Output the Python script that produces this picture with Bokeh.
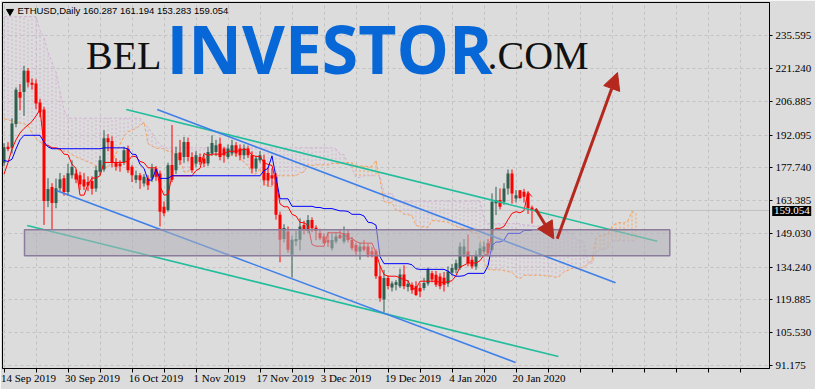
from bokeh.plotting import figure
from bokeh.models import (Range1d, FixedTicker, NumeralTickFormatter, Span,
                          Arrow, NormalHead, ColumnDataSource)
from bokeh.core.properties import value
from bokeh.embed import file_html
from bokeh.resources import INLINE

# ---------------- data (daily ETHUSD, day 0 = 14 Sep 2019) ----------------
opens = [180.0, 187.0, 186.5, 197.0, 211.0, 211.0, 220.3, 215.0, 214.7, 206.4,
         203.3, 163.2, 169.3, 162.3, 168.8, 173.2, 167.1, 174.5, 175.2, 174.5,
         172.6, 171.5, 172.0, 168.7, 176.0, 177.0, 190.7, 189.5, 180.3, 179.6,
         180.3, 186.1, 178.2, 172.5, 174.5, 170.9, 173.1, 173.1, 177.4, 175.2,
         160.7, 159.2, 179.0, 176.7, 184.5, 182.5, 189.1, 182.5, 179.6, 182.5,
         181.8, 179.6, 184.0, 184.7, 188.3, 186.2, 182.5, 184.0, 187.6, 186.2,
         183.2, 186.2, 183.2, 177.4, 181.1, 181.3, 175.5, 174.5, 173.8, 157.1,
         146.5, 149.8, 139.6, 145.5, 146.2, 152.7, 150.0, 154.8, 151.5, 149.1,
         147.6, 146.0, 142.5, 145.4, 148.3, 145.4, 149.1, 146.1, 143.9, 141.0,
         143.2, 143.2, 141.1, 141.1, 130.2, 120.0, 129.4, 125.2, 126.5, 125.8,
         130.9, 125.5, 126.5, 125.8, 125.0, 125.0, 127.0, 131.5, 130.8, 130.1,
         129.5, 127.0, 131.7, 133.0, 133.8, 139.6, 141.0, 137.4, 134.5, 139.5,
         141.0, 144.7, 141.8, 162.2, 163.6, 162.9, 168.7, 175.2, 164.3, 167.9,
         167.2, 166.5, 160.287]
highs = [188.5, 189.0, 199.5, 213.0, 214.5, 222.5, 221.5, 217.0, 216.5, 208.0,
         204.5, 173.2, 171.0, 173.0, 175.5, 174.5, 179.5, 181.0, 177.0, 176.0,
         175.5, 174.0, 174.0, 178.5, 183.0, 194.2, 192.5, 191.5, 182.0, 181.0,
         187.0, 187.5, 179.0, 176.5, 175.5, 175.0, 174.5, 179.5, 178.5, 176.5,
         163.0, 180.0, 196.5, 187.0, 190.0, 191.3, 191.0, 184.5, 185.0, 184.0,
         183.5, 187.0, 192.0, 190.0, 191.0, 187.0, 188.0, 190.0, 189.0, 188.0,
         188.0, 187.5, 185.0, 183.0, 185.0, 183.5, 178.0, 177.5, 175.5, 158.5,
         153.0, 152.0, 148.0, 150.0, 155.6, 154.5, 157.0, 156.0, 152.5, 151.0,
         149.0, 149.5, 149.0, 149.5, 150.5, 152.0, 150.5, 147.5, 145.0, 145.0,
         146.0, 144.5, 143.0, 142.0, 135.0, 133.0, 130.5, 128.0, 128.5, 133.5,
         135.0, 128.5, 127.5, 128.0, 127.0, 129.5, 134.0, 132.5, 132.5, 131.5,
         132.0, 134.5, 135.5, 137.5, 145.0, 146.5, 148.5, 139.0, 141.5, 145.0,
         145.5, 146.5, 166.5, 169.4, 168.7, 171.0, 177.0, 177.0, 168.0, 168.0,
         168.5, 167.5, 161.194]
lows = [178.5, 185.0, 184.0, 195.5, 203.0, 200.5, 213.0, 212.0, 203.5, 200.0,
        152.7, 160.5, 150.5, 160.0, 167.5, 165.5, 165.5, 173.0, 171.0, 168.0,
        168.0, 167.5, 166.0, 167.2, 174.5, 176.0, 185.0, 178.0, 176.5, 176.0,
        179.0, 175.5, 171.5, 171.0, 168.5, 169.5, 168.0, 171.5, 172.0, 152.0,
        156.5, 158.5, 171.5, 175.0, 179.0, 180.0, 180.5, 175.5, 178.0, 179.0,
        178.0, 178.5, 183.0, 183.0, 181.0, 180.0, 181.5, 183.0, 182.5, 181.0,
        181.5, 182.0, 175.5, 176.0, 180.0, 170.0, 169.5, 170.0, 155.0, 136.3,
        145.0, 140.5, 129.7, 143.5, 141.5, 148.5, 149.0, 149.5, 146.0, 146.0,
        144.5, 143.0, 141.5, 144.5, 146.5, 144.5, 145.0, 141.5, 139.0, 137.4,
        141.0, 138.5, 138.5, 129.0, 119.0, 114.4, 124.5, 123.5, 124.0, 125.0,
        124.5, 123.5, 122.5, 121.5, 121.0, 124.0, 126.0, 127.5, 125.5, 124.5,
        123.5, 125.5, 130.5, 131.5, 133.0, 138.5, 134.5, 133.5, 133.0, 138.5,
        140.0, 139.0, 141.0, 157.0, 159.5, 161.5, 166.0, 162.0, 162.5, 164.0,
        162.5, 157.5, 153.283]
closes = [186.7, 186.0, 197.2, 212.0, 208.5, 220.3, 215.1, 214.2, 205.9, 202.0,
          163.2, 168.4, 162.3, 168.8, 172.7, 167.1, 175.4, 178.1, 172.6, 170.5,
          169.5, 170.0, 168.5, 176.7, 181.0, 190.7, 189.0, 179.8, 178.2, 178.4,
          185.4, 176.7, 174.5, 174.5, 172.3, 173.8, 170.1, 177.4, 173.8, 158.5,
          157.8, 178.9, 172.5, 184.1, 181.1, 189.1, 182.5, 176.7, 183.3, 180.3,
          179.6, 184.7, 188.6, 187.6, 182.5, 183.2, 186.2, 187.6, 184.0, 183.2,
          186.2, 183.2, 177.4, 181.8, 183.2, 172.3, 172.2, 173.0, 157.1, 146.2,
          151.3, 141.8, 146.2, 146.5, 152.0, 150.5, 154.8, 151.2, 150.0, 146.9,
          144.7, 145.0, 146.1, 147.6, 146.9, 149.1, 146.1, 142.5, 141.0, 143.2,
          141.8, 139.6, 139.6, 130.2, 120.5, 129.4, 125.9, 127.0, 127.5, 130.9,
          125.8, 126.9, 124.0, 122.0, 123.5, 127.2, 133.0, 128.8, 126.5, 125.8,
          126.5, 132.3, 133.8, 135.9, 143.2, 143.2, 136.0, 134.5, 139.6, 142.5,
          143.2, 140.4, 162.9, 163.6, 160.7, 168.7, 175.2, 166.5, 165.7, 164.5,
          165.0, 160.0, 159.054]

# Ichimoku lines (per day)
tenkan = [175, 180, 186, 190, 193, 195, 196.5, 198,
          200.5, 203.25, 187.6, 187.6, 186.5, 186.5, 186, 183.75, 183.5, 179.25,
          177.5, 165.75, 165.75, 170.5, 173.25, 173.25, 174.25, 180.1, 180.1, 180.1,
          180.1, 180.1, 180.1, 180.7, 182.85, 182.6, 180.5, 180, 177.75, 177.75,
          177.75, 169.75, 165.75, 166, 174.25, 174.25, 174.25, 174.25, 174.25, 174.25,
          176.5, 177.5, 184, 183.15, 183.75, 183.75, 183.75, 183.75, 185, 185,
          185, 185.25, 186, 185.5, 183.25, 182.75, 182.75, 180, 179.25, 178.75,
          171.5, 161.9, 160.65, 160.65, 157.35, 156.6, 153.85, 153.6, 152.6, 144.1,
          143.35, 143.35, 143.35, 149.25, 149.25, 149.25, 149.25, 148.75, 147, 146.75,
          145.5, 144.7, 144.7, 144.7, 144.7, 140.5, 134.75, 130.95, 130.2, 130.2,
          130.2, 129.45, 128.7, 128.2, 124.7, 124.7, 128, 128, 128, 128,
          128, 127.5, 127.5, 127.75, 128.25, 130.5, 134.25, 135, 136, 136,
          136, 137, 139.5, 140, 149.75, 151.2, 151.2, 152, 155, 157.75,
          158.5, 158, 159, 167, 165.1]
kijun = [181, 180.5, 181.5, 186, 190, 192, 192, 192, 192, 192,
         189, 186.9, 186.1, 186.1, 186.1, 186.1, 186.1, 186.1, 186.1, 186.1,
         186.1, 186.1, 186.1, 186.1, 186.1, 186.5, 186.5, 186.5, 186.5, 186.5,
         186.5, 186, 183.75, 183.5, 179.25, 177.5, 172.35, 172.35, 177.1, 173.1,
         173.1, 173.1, 174.25, 174.25, 174.25, 174.25, 174.25, 174.25, 174.25, 174.25,
         174.25, 174.25, 174.25, 174.25, 174.25, 174.25, 174.25, 174.25, 174.25, 174.25,
         174.25, 174.25, 174.25, 174.25, 174.25, 176.5, 177.5, 183, 173.5, 164.15,
         164.15, 164.15, 160.85, 160.85, 160.85, 160.85, 160.85, 160.85, 160.35, 160.35,
         159.85, 159.85, 159.85, 159.35, 158.85, 158.85, 158.6, 157.35, 157.35, 157.35,
         156.6, 153.85, 153.6, 152.6, 138.75, 135.7, 135.7, 135.7, 135.7, 135.7,
         135.7, 135.7, 135.2, 133.45, 133.2, 133.2, 133.2, 133.2, 133.2, 133.2,
         133.2, 132.45, 130.95, 130.2, 130.2, 130.45, 131.45, 131.45, 131.45, 131.45,
         131.45, 134.75, 143.75, 145.2, 145.2, 146, 149, 149, 149, 149,
         150.25, 150.25, 150.25]
# Senkou spans, plotted 26 days ahead (index = chart day)
span_a = [199.2, 198.8, 198.3, 197.8, 197.4, 197, 196.3, 193, 190.5, 189,
          188, 187.6, 186.5, 186, 185.4, 185, 184.7, 183.5, 182.5, 181.8,
          181, 180.3, 179.6, 178.5, 178.2, 178,
          178, 180.25, 183.75, 188, 191.5, 193.5, 194.25, 195, 196.25, 197.6,
          188.3, 187.25, 186.3, 186.3, 186.05, 184.9, 184.8, 182.7, 181.8, 175.9,
          175.9, 178.3, 179.7, 179.7, 180.2, 183.3, 183.3, 183.3, 183.3, 183.3,
          183.3, 183.35, 183.3, 183.05, 179.9, 178.75, 175.05, 175.05, 177.4, 171.4,
          169.4, 169.55, 174.25, 174.25, 174.25, 174.25, 174.25, 174.25, 175.4, 175.9,
          179.1, 178.7, 179, 179, 179, 179, 179.6, 179.6, 179.6, 179.75,
          180.1, 179.9, 178.75, 178.5, 178.5, 178.25, 178.4, 180.9, 172.5, 163,
          162.4, 162.4, 159.1, 158.7, 157.35, 157.2, 156.7, 152.5, 151.85, 151.85,
          151.6, 154.55, 154.55, 154.3, 154.05, 153.8, 152.8, 152.05, 151.4, 151,
          150.65, 149.3, 149.15, 146.55, 136.75, 133.3, 132.95, 132.95, 132.95, 132.6,
          132.2, 131.95, 129.95, 129.1, 130.6, 130.6, 130.6, 130.6, 130.6, 130.35,
          130.35, 130.1, 129.6, 130.35, 132.2, 132.7, 133.7, 133.7, 133.7, 134.2,
          135.5, 137.4, 146.75, 148.2, 148.2, 149, 152, 153.4, 153.75, 153.5,
          154.6, 158.6, 157.7]
span_b = ([244] * 9 + [238, 234.9, 228.3, 224, 219.6, 211, 203] + [199.5] * 19 +
          [197, 195.5, 193, 190, 188] + [186.5] * 43 +
          [186, 183.75, 183.5, 179.25, 177.5, 173.5, 173.5] + [174.25] * 5 +
          [166.4] * 3 + [163.1] * 22 + [155.5] + [153.2] * 9 + [152.7] * 2 +
          [152.2] * 3 + [151.7] + [151.2] * 2 + [150.95] + [149.7] * 3 +
          [148.95, 146.2, 145.95, 144.95, 136.45, 135.7, 140.45, 141.9, 141.9, 142.7] +
          [145.7] * 7)

# date axis
date_tick_days = [0, 16, 32, 48, 64, 80, 96, 112, 128]
date_labels = ["14 Sep 2019", "30 Sep 2019", "16 Oct 2019", "1 Nov 2019", "17 Nov 2019",
               "3 Dec 2019", "19 Dec 2019", "4 Jan 2020", "20 Jan 2020"]
price_ticks = [235.595, 221.240, 206.885, 192.095, 177.740, 163.385, 149.030,
               134.240, 119.885, 105.530, 91.175]
last_price = 159.054
header = "ETHUSD,Daily  160.287 161.194 153.283 159.054"

# drawn objects (day, price)
teal_lines = dict(x0=[30.55, 5.8], y0=[203.31, 152.44], x1=[163.3, 138.6], y1=[145.55, 94.99])
blue_lines = dict(x0=[38.3, 13.1], y0=[203.31, 167.79], x1=[152.9, 127.9], y1=[127.31, 92.36])
zone = dict(left=[5.125], right=[166.45], top=[150.56], bottom=[139.15])
arrow_short = (132.875, 159.76, 137.45, 146.61)
arrow_long = (138.3, 146.61, 153.375, 219.53)
tag_box = dict(left=[192.05], right=[201.8], top=[160.99], bottom=[156.6])

# ---------------- styling ----------------
BG = "#dcdcdc"
BULL = "#2f5f4f"
BEAR = "#ff0000"
THISTLE = "#d3b2d3"
SANDY = "#f4a460"
NARROW = "Liberation Sans Narrow"

p = figure(width=815, height=389, output_backend="svg", toolbar_location=None, tools="",
           x_range=Range1d(-0.375, 191.375), y_range=Range1d(89.73, 250.23),
           y_axis_location="right", min_border_left=2, min_border_top=2,
           min_border_right=46, min_border_bottom=21)
p.background_fill_color = BG
p.border_fill_color = BG
p.outline_line_color = "black"
p.outline_line_width = 1

# axes
p.yaxis.ticker = FixedTicker(ticks=price_ticks)
p.yaxis.formatter = NumeralTickFormatter(format="0.000")
p.yaxis.major_tick_out = 3
p.yaxis.major_tick_in = 0
p.yaxis.minor_tick_out = 0
p.yaxis.minor_tick_in = 0
p.yaxis.major_label_standoff = 3
p.yaxis.major_label_text_font = NARROW
p.yaxis.major_label_text_font_size = "11px"
p.yaxis.major_label_text_color = "black"
p.yaxis.axis_line_color = "black"
p.yaxis.major_tick_line_color = "black"

grid_days = list(range(0, 192, 8))
label_w = [51, 51, 50, 49, 52.5, 46, 52, 44, 48]
label_centers = [d + (w / 2 - 1) / 4 for d, w in zip(date_tick_days, label_w)]
p.xaxis.ticker = FixedTicker(ticks=label_centers, minor_ticks=grid_days)
p.xaxis.major_label_overrides = {c: lab for c, lab in zip(label_centers, date_labels)}
p.xaxis.major_tick_out = 0
p.xaxis.major_tick_in = 0
p.xaxis.minor_tick_out = 4
p.xaxis.minor_tick_in = 0
p.xaxis.minor_tick_line_color = "black"
p.xaxis.major_label_standoff = -1
p.xaxis.major_label_text_font = NARROW
p.xaxis.major_label_text_font_size = "11px"
p.xaxis.major_label_text_color = "black"
p.xaxis.axis_line_color = "black"

p.xgrid.ticker = FixedTicker(ticks=grid_days)
for g in (p.xgrid, p.ygrid):
    g.grid_line_color = "#c2c2c2"
    g.grid_line_dash = "3 3"
    g.grid_line_width = 1

# bid line
p.add_layout(Span(location=last_price, dimension="width", line_color="#c0c0c0",
                  line_width=1, level="underlay"))

# Ichimoku cloud hatch
t_days = list(range(len(span_a)))
hatch_col = [THISTLE if b >= a else SANDY for a, b in zip(span_a, span_b)]
p.segment(x0=t_days, y0=span_a, x1=t_days, y1=span_b, line_color=hatch_col,
          line_width=1, line_dash="2 2")
p.line(t_days, span_b, line_color=THISTLE, line_width=1, line_dash="3 2")
p.line(t_days, span_a, line_color=SANDY, line_width=1, line_dash="3 2")

# candles
days = list(range(len(opens)))
cols = [BULL if c >= o else BEAR for o, c in zip(opens, closes)]
src = ColumnDataSource(dict(
    x=days, o=opens, h=highs, l=lows, c=closes,
    top=[max(o, c) for o, c in zip(opens, closes)],
    bottom=[min(o, c) for o, c in zip(opens, closes)],
    col=cols))
p.segment(x0="x", y0="l", x1="x", y1="h", line_color="col", line_width=1, source=src)
p.vbar(x="x", width=0.75, top="top", bottom="bottom", fill_color="col",
       line_color=None, source=src)

# tenkan / kijun
p.line(days, tenkan, line_color="#ff0000", line_width=1)
p.line(days, kijun, line_color="#0000ff", line_width=1)

# channels
p.segment(source=ColumnDataSource(teal_lines), x0="x0", y0="y0", x1="x1", y1="y1",
          line_color="#22bd9c", line_width=1.6)
p.segment(source=ColumnDataSource(blue_lines), x0="x0", y0="y0", x1="x1", y1="y1",
          line_color="#3f7fe8", line_width=1.6)

# support zone
p.quad(source=ColumnDataSource(zone), left="left", right="right", top="top", bottom="bottom",
       fill_color="#b0b0b8", fill_alpha=0.55, line_color="#8c7c9c", line_width=1.5)

# arrows
AR = "#b4281e"
for (xs, ys, xe, ye), sz in ((arrow_short, 17), (arrow_long, 17)):
    p.add_layout(Arrow(end=NormalHead(size=sz, fill_color=AR, line_color=AR, line_width=1),
                       x_start=xs, y_start=ys, x_end=xe, y_end=ye,
                       line_color=AR, line_width=3))

# watermark
p.text(x=[39.375], y=[226.99], text=["BEL"], text_font=value("Liberation Serif"),
       text_font_size=value("40px"), text_color="#111111", text_align="right",
       text_baseline="middle")
p.text(x=[40.625], y=[230.06], text=["INVESTOR"], text_font=value("Open Sans"),
       text_font_size=value("66px"), text_font_style="bold", text_color="#0767d6",
       text_align="left", text_baseline="middle")
p.text(x=[120.875], y=[226.99], text=[".COM"], text_font=value("Liberation Serif"),
       text_font_size=value("40px"), text_color="#111111", text_align="left",
       text_baseline="middle")

# header
p.scatter(x=[1.5], y=[246.3], marker="inverted_triangle", size=7, fill_color="black",
          line_color="black")
p.text(x=[3.375], y=[246.72], text=[header], text_font=value("Liberation Sans"),
       text_font_size=value("9.5px"), text_color="black", text_align="left",
       text_baseline="middle")

# last price tag on the price scale (drawn above the axis, unclipped)
p.quad(source=ColumnDataSource(tag_box), left="left", right="right", top="top",
       bottom="bottom", fill_color="black", line_color=None, level="overlay")
p.text(x=[192.5], y=[last_price], text=[f"{last_price:.3f}"], text_font=value(NARROW),
       text_font_size=value("11px"), text_color="white", text_align="left",
       text_baseline="middle", level="overlay")

open("out.html", "w").write(file_html(p, INLINE))
